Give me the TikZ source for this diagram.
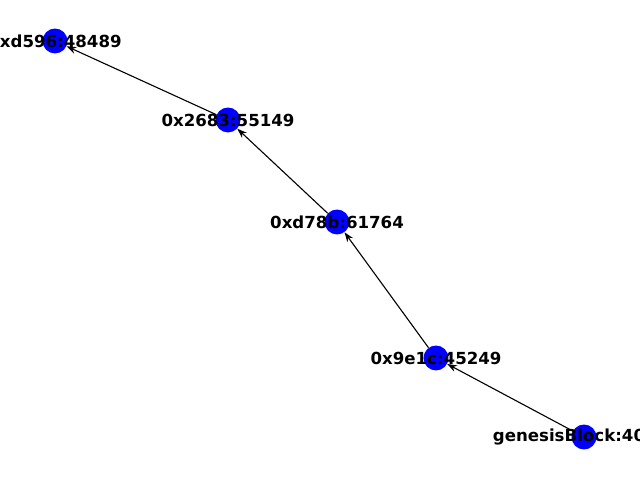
\documentclass[tikz,border=0pt]{standalone}
\usepackage{fontspec}
\setmainfont{DejaVu Sans}
\usetikzlibrary{arrows.meta}

\tikzset{
  block/.style={circle, fill=blue, inner sep=0pt, minimum size=18pt},
  blocklabel/.style={inner sep=0pt, font=\fontsize{12}{14}\selectfont\bfseries},
  link/.style={-{Stealth[length=7pt, width=5pt]}, line width=0.8pt, black},
}

\begin{document}
\begin{tikzpicture}[%
      x=0.01in, y=-0.01in,
      ]
      \useasboundingbox (0,0) rectangle (640,480);
      \clip (0,0) rectangle (640,480);

      \node [block] (d596) at (55,41) {};
      \node [block] (b2683) at (228,120) {};
      \node [block] (d78b) at (337,222) {};
      \node [block] (e91c) at (436,358) {};
      \node [block] (genesis) at (584,437) {};

      \draw [link] (genesis) -- (e91c);
      \draw [link] (e91c) -- (d78b);
      \draw [link] (d78b) -- (b2683);
      \draw [link] (b2683) -- (d596);

      \node [blocklabel] at (d596) {0xd596:48489};
      \node [blocklabel] at (b2683) {0x2683:55149};
      \node [blocklabel] at (d78b) {0xd78b:61764};
      \node [blocklabel] at (e91c) {0x9e1c:45249};
      \node [blocklabel, anchor=west] at ([xshift=-66pt]genesis.center) {genesisBlock:40};
      \end{tikzpicture}
\end{document}
